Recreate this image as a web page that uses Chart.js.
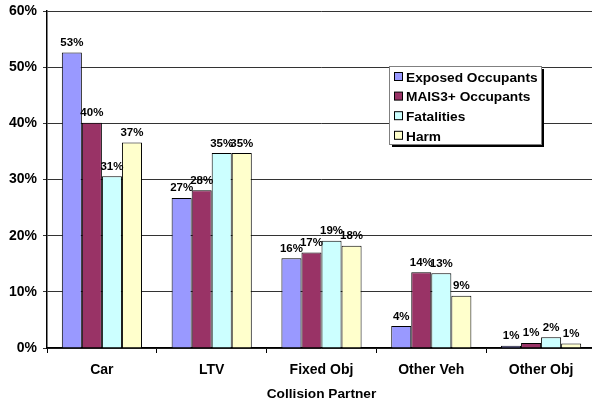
<!DOCTYPE html>
<html>
<head>
<meta charset="utf-8">
<script src="https://cdn.jsdelivr.net/npm/chart.js@4.4.1/dist/chart.umd.min.js"></script>
<style>
  html, body { margin: 0; padding: 0; background: #fff; overflow: hidden; }
  #wrap { width: 596px; height: 402px; }
</style>
</head>
<body>
<div id="wrap"><canvas id="chart" width="596" height="402"></canvas></div>
<script>
const categories = ["Car", "LTV", "Fixed Obj", "Other Veh", "Other Obj"];
const exposed    = [52.6, 26.7, 16.0, 3.9, 0.4];
const mais3      = [40.1, 28.1, 17.0, 13.5, 0.9];
const fatalities = [30.6, 34.7, 19.1, 13.3, 1.9];
const harm       = [36.6, 34.7, 18.2, 9.3, 0.8];
// labels as printed on the chart
const exposedLbl    = ["53%", "27%", "16%", "4%", "1%"];
const mais3Lbl      = ["40%", "28%", "17%", "14%", "1%"];
const fatalitiesLbl = ["31%", "35%", "19%", "13%", "2%"];
const harmLbl       = ["37%", "35%", "18%", "9%", "1%"];
const yTicks = [0, 10, 20, 30, 40, 50, 60];

const FONT = "'Liberation Sans', Arial, sans-serif";

function ds(label, data, labels, color) {
    return {
        label: label,
        data: data,
        valueLabels: labels,
        backgroundColor: color,
        borderColor: "#000",
        borderWidth: 1,
        borderSkipped: "bottom",
        barPercentage: 1.0,
        categoryPercentage: 0.73,
    };
}

const valueLabels = {
    id: "valueLabels",
    afterDatasetsDraw(chart) {
        const ctx = chart.ctx;
        ctx.save();
        ctx.font = "bold 11.5px " + FONT;
        ctx.fillStyle = "#000";
        ctx.textAlign = "center";
        ctx.textBaseline = "bottom";
        chart.data.datasets.forEach((d, i) => {
            chart.getDatasetMeta(i).data.forEach((bar, j) => {
                ctx.fillText(d.valueLabels[j], bar.x, bar.y - 4);
            });
        });
        ctx.restore();
    }
};

const boxLegend = {
    id: "boxLegend",
    afterDraw(chart) {
        const ctx = chart.ctx;
        const x = 389, y = 66, w = 152, h = 78;
        ctx.save();
        ctx.fillStyle = "#000";
        ctx.fillRect(x + 3, y + 3, w, h);
        ctx.fillStyle = "#fff";
        ctx.fillRect(x, y, w, h);
        ctx.strokeStyle = "#808080";
        ctx.lineWidth = 1;
        ctx.strokeRect(x + 0.5, y + 0.5, w, h);
        ctx.font = "bold 13.7px " + FONT;
        ctx.textBaseline = "middle";
        ctx.textAlign = "left";
        chart.data.datasets.forEach((d, i) => {
            const cy = y + 11 + i * 19.6;
            ctx.fillStyle = d.backgroundColor;
            ctx.fillRect(394.5, cy - 4.5, 8, 8);
            ctx.strokeStyle = "#000";
            ctx.strokeRect(394.5, cy - 4.5, 8, 8);
            ctx.fillStyle = "#000";
            ctx.fillText(d.label, 406, cy + 1);
        });
        ctx.restore();
    }
};

new Chart(document.getElementById("chart"), {
    type: "bar",
    data: {
        labels: categories,
        datasets: [
            ds("Exposed Occupants", exposed, exposedLbl, "#9999FF"),
            ds("MAIS3+ Occupants", mais3, mais3Lbl, "#993366"),
            ds("Fatalities", fatalities, fatalitiesLbl, "#CCFFFF"),
            ds("Harm", harm, harmLbl, "#FFFFCC"),
        ],
    },
    options: {
        responsive: false,
        animation: false,
        layout: { padding: { left: 0, right: 0, top: 11, bottom: 0 } },
        plugins: {
            legend: { display: false },
            tooltip: { enabled: false },
        },
        scales: {
            x: {
                grid: { display: true, drawOnChartArea: false, drawTicks: true, tickLength: 5, offset: true, color: "#000" },
                border: { display: true, color: "#000", width: 1.5 },
                ticks: { color: "#000", font: { family: FONT, size: 14, weight: "bold" }, padding: 9, maxRotation: 0 },
                title: { display: true, text: "Collision Partner", color: "#000", font: { family: FONT, size: 13.7, weight: "bold" }, padding: { top: 5, bottom: 0 } },
                afterFit(scale) { scale.height = 54; scale.paddingLeft = 0; scale.paddingRight = 0; },
            },
            y: {
                min: 0,
                max: 60,
                afterBuildTicks(scale) { scale.ticks = yTicks.map(v => ({ value: v })); },
                grid: { color: "#333", lineWidth: 1, drawTicks: true, tickLength: 4 },
                border: { display: true, color: "#000", width: 1.5 },
                ticks: { color: "#000", font: { family: FONT, size: 14, weight: "bold" }, padding: 6, callback: v => v + "%" },
                afterFit(scale) { scale.width = 47; scale.paddingTop = 0; scale.paddingBottom = 0; },
            },
        },
    },
    plugins: [valueLabels, boxLegend],
});
</script>
</body>
</html>
